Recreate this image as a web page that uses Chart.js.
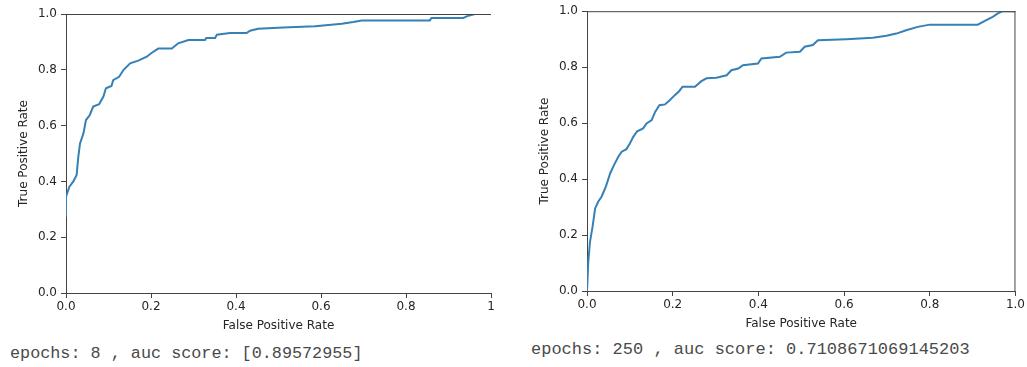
<!DOCTYPE html>
<html>
<head>
  <meta charset="utf-8">
  <title>ROC curves</title>
  <script src="https://cdn.jsdelivr.net/npm/chart.js"></script>
  <style>
    body { margin: 0; background: #fff; width: 1027px; height: 367px; position: relative; overflow: hidden; }
    canvas { position: absolute; top: 0; }
    #rocLeft { left: 0; }
    #rocRight { left: 520px; }
    .out { position: absolute; font-family: "Liberation Mono", monospace; color: #4a4a4a; line-height: 20px; white-space: pre; }
  </style>
</head>
<body>
  <canvas id="rocLeft" width="500" height="333"></canvas>
  <canvas id="rocRight" width="507" height="331"></canvas>
  <div class="out" id="noteLeft" style="left:10px; top:344px; font-size:16.8px;"></div>
  <div class="out" id="noteRight" style="left:531px; top:340px; font-size:17px;"></div>

  <script>
    // epochs = 8
    const fpr8 = [0, 0, 0.008, 0.017, 0.025, 0.029, 0.033, 0.041, 0.047, 0.056, 0.064, 0.078, 0.088, 0.094, 0.107,
      0.111, 0.125, 0.135, 0.151, 0.170, 0.190, 0.202, 0.217, 0.249, 0.264, 0.288, 0.327, 0.330, 0.351, 0.355,
      0.386, 0.425, 0.433, 0.452, 0.511, 0.586, 0.649, 0.676, 0.696, 0.856, 0.860, 0.935, 0.947, 0.962, 1.0];
    const tpr8 = [0.273, 0.345, 0.381, 0.399, 0.423, 0.489, 0.536, 0.572, 0.620, 0.638, 0.668, 0.677, 0.704, 0.734, 0.742,
      0.763, 0.775, 0.799, 0.823, 0.833, 0.847, 0.861, 0.876, 0.876, 0.895, 0.907, 0.907, 0.914, 0.914, 0.926,
      0.932, 0.932, 0.940, 0.947, 0.952, 0.956, 0.965, 0.971, 0.977, 0.977, 0.986, 0.986, 0.994, 1.0, 1.0];

    // epochs = 250
    const fpr250 = [0, 0.003, 0.007, 0.013, 0.019, 0.026, 0.034, 0.044, 0.054, 0.063, 0.073, 0.081, 0.092, 0.100,
      0.108, 0.117, 0.131, 0.139, 0.151, 0.159, 0.169, 0.182, 0.193, 0.205, 0.215, 0.223, 0.252, 0.267, 0.279,
      0.302, 0.326, 0.337, 0.353, 0.364, 0.399, 0.407, 0.450, 0.465, 0.497, 0.508, 0.527, 0.539, 0.605, 0.667,
      0.699, 0.722, 0.745, 0.772, 0.800, 0.912, 0.932, 0.947, 0.959, 0.970, 1.0];
    const tpr250 = [0, 0.105, 0.176, 0.230, 0.295, 0.319, 0.337, 0.373, 0.420, 0.450, 0.480, 0.498, 0.507, 0.527,
      0.551, 0.571, 0.581, 0.599, 0.611, 0.640, 0.664, 0.667, 0.682, 0.700, 0.714, 0.730, 0.730, 0.750, 0.760,
      0.762, 0.771, 0.789, 0.795, 0.807, 0.813, 0.831, 0.837, 0.852, 0.855, 0.873, 0.879, 0.896, 0.900, 0.905,
      0.912, 0.920, 0.932, 0.944, 0.952, 0.952, 0.968, 0.980, 0.992, 1.0, 1.0];

    const yTickLabels = ['0.0', '0.2', '0.4', '0.6', '0.8', '1.0'];
    const xTickLabelsLeft = ['0.0', '0.2', '0.4', '0.6', '0.8', '1'];
    const xTickLabelsRight = ['0.0', '0.2', '0.4', '0.6', '0.8', '1.0'];

    const notes = [
      'epochs: 8 , auc score: [0.89572955]',
      'epochs: 250 , auc score: 0.7108671069145203'
    ];

    document.getElementById('noteLeft').textContent = notes[0];
    document.getElementById('noteRight').textContent = notes[1];

    // extra spines (top / right) like matplotlib
    const spinesPlugin = {
      id: 'spines',
      afterDatasetsDraw(chart, args, opts) {
        const a = chart.chartArea;
        const c = chart.ctx;
        c.save();
        c.strokeStyle = '#444';
        c.lineWidth = 1;
        c.beginPath();
        if (opts.top) { c.moveTo(a.left, a.top + 0.5); c.lineTo(a.right, a.top + 0.5); }
        if (opts.right) { c.moveTo(a.right - 0.5, a.top); c.lineTo(a.right - 0.5, a.bottom); }
        c.stroke();
        c.restore();
      }
    };

    const tickFont = { family: 'DejaVu Sans', size: 12 };

    function makeRoc(id, fpr, tpr, xLabels, pad, showRight) {
      const pts = fpr.map((x, i) => ({ x: x, y: tpr[i] }));
      return new Chart(document.getElementById(id), {
        type: 'line',
        data: {
          datasets: [{
            data: pts,
            borderColor: '#3680b6',
            borderWidth: 2,
            pointRadius: 0,
            tension: 0,
            fill: false
          }]
        },
        options: {
          responsive: false,
          animation: false,
          layout: { padding: pad },
          plugins: {
            legend: { display: false },
            tooltip: { enabled: false },
            spines: { top: true, right: showRight }
          },
          scales: {
            x: {
              type: 'linear',
              min: 0, max: 1,
              afterFit(s) { s.height = 40; },
              grid: { drawOnChartArea: false, tickLength: 5, tickColor: '#444' },
              border: { color: '#444' },
              ticks: {
                stepSize: 0.2, autoSkip: false, maxRotation: 0, padding: 2,
                color: '#262626', font: tickFont,
                callback: (v, i) => xLabels[i]
              },
              title: { display: true, text: 'False Positive Rate', color: '#262626', font: tickFont, padding: 0 }
            },
            y: {
              type: 'linear',
              min: 0, max: 1,
              afterFit(s) { s.width = 49; },
              grid: { drawOnChartArea: false, tickLength: 5, tickColor: '#444' },
              border: { color: '#444' },
              ticks: {
                stepSize: 0.2, padding: 4,
                color: '#262626', font: tickFont,
                callback: (v, i) => yTickLabels[i]
              },
              title: { display: true, text: 'True Positive Rate', color: '#262626', font: tickFont, padding: 0 }
            }
          }
        },
        plugins: [spinesPlugin]
      });
    }

    makeRoc('rocLeft', fpr8, tpr8, xTickLabelsLeft, { left: 17, right: 9, top: 14, bottom: 0 }, false);
    makeRoc('rocRight', fpr250, tpr250, xTickLabelsRight, { left: 18, right: 11, top: 11, bottom: 0 }, true);
  </script>
</body>
</html>
